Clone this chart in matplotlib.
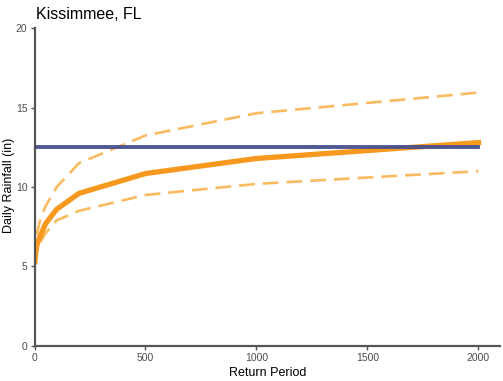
import matplotlib
matplotlib.use("Agg")
import matplotlib.pyplot as plt

plt.rcParams["font.family"] = ["Liberation Sans", "DejaVu Sans"]

# return periods (years) and daily rainfall estimates (inches)
return_period = [2, 5, 10, 25, 50, 100, 200, 500, 1000, 2000]
rainfall = [5.3, 5.8, 6.3, 6.9, 7.7, 8.6, 9.6, 10.85, 11.8, 12.8]
upper_ci = [5.5, 6.3, 7.0, 7.9, 8.8, 10.0, 11.5, 13.25, 14.65, 15.95]
lower_ci = [5.1, 5.5, 5.9, 6.5, 7.1, 7.9, 8.5, 9.5, 10.2, 11.0]
observed_max = 12.5

orange = "#F7991F"
light_orange = "#F9B44F"
blue = "#46508E"
axis_gray = "#555555"

fig = plt.figure(figsize=(5.03, 3.81), dpi=100)
ax = fig.add_axes([34.5 / 503, 35.2 / 381, 465.5 / 503, 317.5 / 381])

ax.plot(return_period, upper_ci, color=light_orange, linewidth=1.9,
        dashes=(6, 3), alpha=0.9)
ax.plot(return_period, lower_ci, color=light_orange, linewidth=1.9,
        dashes=(6, 3), alpha=0.9)
ax.plot(return_period, rainfall, color=orange, linewidth=3.8)
ax.plot([return_period[0], return_period[-1]], [observed_max, observed_max],
        color=blue, linewidth=2.8, alpha=0.95)

ax.set_xlim(0, 2097)
ax.set_ylim(0, 20)
ax.set_xticks([0, 500, 1000, 1500, 2000])
ax.set_yticks([0, 5, 10, 15, 20])

for side in ["top", "right"]:
    ax.spines[side].set_visible(False)
for side in ["left", "bottom"]:
    ax.spines[side].set_color(axis_gray)
    ax.spines[side].set_linewidth(1.6)

ax.tick_params(axis="both", colors=axis_gray, labelcolor="#4D4D4D",
               labelsize=7.5, length=3, width=1, pad=2)

ax.set_xlabel("Return Period", fontsize=9, color="black")
ax.xaxis.set_label_coords(0.5, -0.068)
ax.set_ylabel("Daily Rainfall (in)", fontsize=9, color="black")
ax.yaxis.set_label_coords(-0.041, 0.505)

fig.text(36 / 503, 1 - 19 / 381, "Kissimmee, FL", fontsize=11.5,
         color="black", ha="left", va="baseline")

fig.savefig("out.png", dpi=100)
